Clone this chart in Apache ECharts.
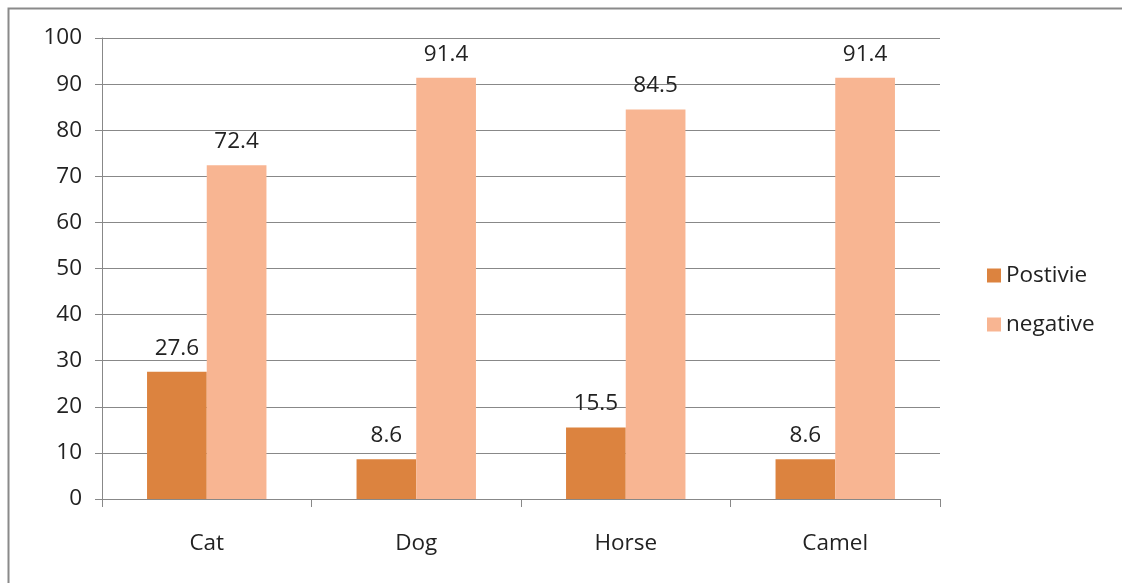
<!DOCTYPE html>
<html>
<head>
<meta charset="utf-8">
<script src="https://cdn.jsdelivr.net/npm/echarts@6/dist/echarts.min.js"></script>
<style>
  html, body { margin: 0; padding: 0; background: #fff; }
  #chart { width: 1122px; height: 583px; }
</style>
</head>
<body>
<div id="chart"></div>
<script>
// Data
var categories = ['Cat', 'Dog', 'Horse', 'Camel'];
var positiveValues = [27.6, 8.6, 15.5, 8.6];
var negativeValues = [72.4, 91.4, 84.5, 91.4];
var yTicks = [0, 10, 20, 30, 40, 50, 60, 70, 80, 90, 100];

var font = '"Open Sans", sans-serif';
var fs = 22.5;
var chart = echarts.init(document.getElementById('chart'));

chart.setOption({
    animation: false,
    textStyle: { fontFamily: font },
    graphic: [{
        type: 'rect',
        shape: { x: 8.5, y: 8.5, width: 1200, height: 700 },
        style: { fill: 'none', stroke: '#8a8a8a', lineWidth: 2 },
        silent: true
    }],
    legend: {
        orient: 'vertical',
        left: 982,
        top: 259,
        itemWidth: 14,
        itemHeight: 14,
        itemGap: 26,
        icon: 'rect',
        textStyle: { fontSize: fs, color: '#222', fontFamily: font },
        data: ['Postivie', 'negative']
    },
    grid: { left: 102, right: 182, top: 38, bottom: 84 },
    xAxis: {
        type: 'category',
        data: categories,
        axisLine: { lineStyle: { color: '#888' } },
        axisTick: { show: true, length: 8, lineStyle: { color: '#888' } },
        axisLabel: { fontSize: fs, color: '#222', margin: 33, fontFamily: font }
    },
    yAxis: {
        type: 'value',
        min: yTicks[0],
        max: yTicks[yTicks.length - 1],
        interval: 10,
        axisLine: { show: true, lineStyle: { color: '#888' } },
        axisTick: { show: true, length: 7, inside: false, lineStyle: { color: '#888' } },
        splitLine: { lineStyle: { color: '#888' } },
        axisLabel: { fontSize: fs, color: '#222', margin: 20, fontFamily: font }
    },
    series: [{
        name: 'Postivie',
        type: 'bar',
        data: positiveValues,
        barGap: '0%',
        barCategoryGap: '43%',
        itemStyle: { color: '#dc833f' },
        label: { show: true, position: 'top', distance: 12, fontSize: fs, color: '#222', fontFamily: font }
    }, {
        name: 'negative',
        type: 'bar',
        data: negativeValues,
        itemStyle: { color: '#f8b592' },
        label: { show: true, position: 'top', distance: 12, fontSize: fs, color: '#222', fontFamily: font }
    }]
});
</script>
</body>
</html>
